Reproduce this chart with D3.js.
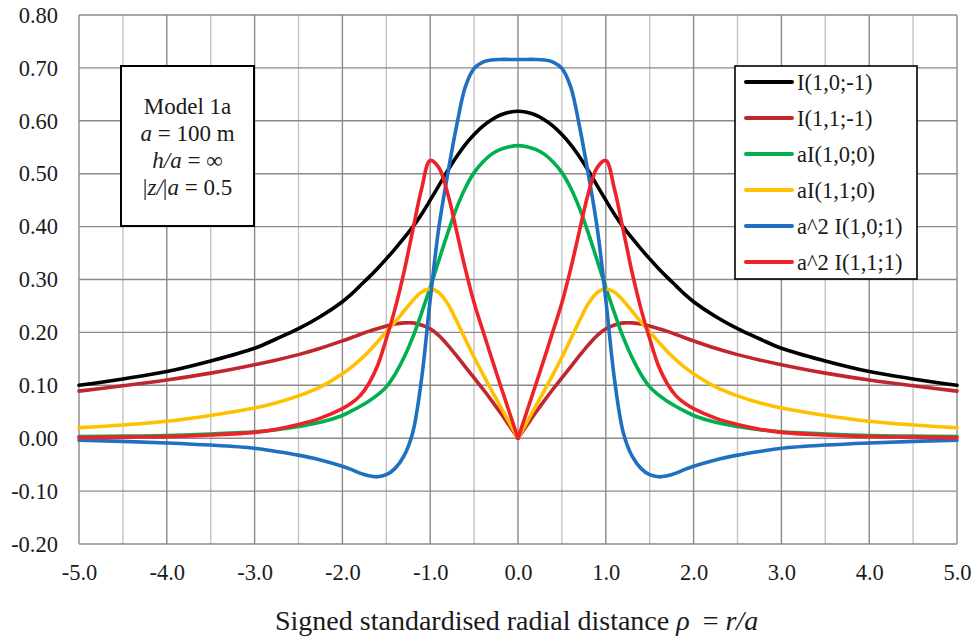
<!DOCTYPE html>
<html>
<head>
<meta charset="utf-8">
<script src="https://cdn.jsdelivr.net/npm/d3@7"></script>
<style>
  body { margin: 0; background: #fff; }
  svg text { font-family: "Liberation Serif", "Times New Roman", serif; fill: #1a1a1a; }
</style>
</head>
<body>
<svg id="chart" width="975" height="644"></svg>
<script>
// Signed standardised radial distance rho = r/a
const rho = [
  -5.0, -4.5, -4.0, -3.5, -3.0, -2.75, -2.5, -2.25, -2.0, -1.9, -1.8, -1.7, -1.6, -1.5, -1.4,
  -1.3, -1.2, -1.1, -1.0, -0.9, -0.8, -0.7, -0.6, -0.5, -0.4, -0.3, -0.2, -0.1,
  0.0,
  0.1, 0.2, 0.3, 0.4, 0.5, 0.6, 0.7, 0.8, 0.9, 1.0, 1.1, 1.2, 1.3,
  1.4, 1.5, 1.6, 1.7, 1.8, 1.9, 2.0, 2.25, 2.5, 2.75, 3.0, 3.5, 4.0, 4.5, 5.0
];

// I(1,0;-1)
const valsI10m1 = [
  0.100, 0.112, 0.126, 0.146, 0.170, 0.188, 0.207, 0.230, 0.258, 0.272, 0.288, 0.304, 0.321, 0.339, 0.358,
  0.378, 0.399, 0.423, 0.450, 0.478, 0.506, 0.532, 0.555, 0.574, 0.590, 0.602, 0.611, 0.616,
  0.618,
  0.616, 0.611, 0.602, 0.590, 0.574, 0.555, 0.532, 0.506, 0.478, 0.450, 0.423, 0.399, 0.378,
  0.358, 0.339, 0.321, 0.304, 0.288, 0.272, 0.258, 0.230, 0.207, 0.188, 0.170, 0.146, 0.126, 0.112, 0.100
];

// I(1,1;-1)
const valsI11m1 = [
  0.089, 0.099, 0.110, 0.123, 0.139, 0.148, 0.158, 0.170, 0.184, 0.190, 0.196, 0.202, 0.207, 0.212, 0.216,
  0.218, 0.218, 0.214, 0.207, 0.194, 0.176, 0.156, 0.135, 0.114, 0.093, 0.071, 0.048, 0.024,
  0.000,
  0.024, 0.048, 0.071, 0.093, 0.114, 0.135, 0.156, 0.176, 0.194, 0.207, 0.214, 0.218, 0.218,
  0.216, 0.212, 0.207, 0.202, 0.196, 0.190, 0.184, 0.170, 0.158, 0.148, 0.139, 0.123, 0.110, 0.099, 0.089
];

// aI(1,0;0)
const valsI100 = [
  0.003, 0.004, 0.005, 0.008, 0.012, 0.016, 0.022, 0.030, 0.043, 0.051, 0.060, 0.070, 0.082, 0.097, 0.121,
  0.152, 0.190, 0.236, 0.285, 0.337, 0.388, 0.435, 0.473, 0.502, 0.522, 0.537, 0.546, 0.551,
  0.553,
  0.551, 0.546, 0.537, 0.522, 0.502, 0.473, 0.435, 0.388, 0.337, 0.285, 0.236, 0.190, 0.152,
  0.121, 0.097, 0.082, 0.070, 0.060, 0.051, 0.043, 0.030, 0.022, 0.016, 0.012, 0.008, 0.005, 0.004, 0.003
];

// aI(1,1;0)
const valsI110 = [
  0.020, 0.025, 0.032, 0.043, 0.057, 0.067, 0.080, 0.097, 0.122, 0.134, 0.148, 0.164, 0.182, 0.201, 0.220,
  0.240, 0.260, 0.276, 0.282, 0.275, 0.254, 0.222, 0.187, 0.153, 0.121, 0.090, 0.060, 0.030,
  0.000,
  0.030, 0.060, 0.090, 0.121, 0.153, 0.187, 0.222, 0.254, 0.275, 0.282, 0.276, 0.260, 0.240,
  0.220, 0.201, 0.182, 0.164, 0.148, 0.134, 0.122, 0.097, 0.080, 0.067, 0.057, 0.043, 0.032, 0.025, 0.020
];

// a^2 I(1,0;1)
const valsI101 = [
  -0.004, -0.006, -0.009, -0.013, -0.019, -0.025, -0.032, -0.041, -0.053, -0.059, -0.066, -0.071, -0.073, -0.069, -0.057,
  -0.034, 0.010, 0.110, 0.262, 0.400, 0.500, 0.590, 0.664, 0.699, 0.711, 0.715, 0.716, 0.716,
  0.716,
  0.716, 0.716, 0.715, 0.711, 0.699, 0.664, 0.590, 0.500, 0.400, 0.262, 0.110, 0.010, -0.034,
  -0.057, -0.069, -0.073, -0.071, -0.066, -0.059, -0.053, -0.041, -0.032, -0.025, -0.019, -0.013, -0.009, -0.006, -0.004
];

// a^2 I(1,1;1)
const valsI111 = [
  0.001, 0.002, 0.003, 0.006, 0.011, 0.017, 0.026, 0.038, 0.056, 0.066, 0.080, 0.103, 0.137, 0.188, 0.245,
  0.313, 0.392, 0.470, 0.525, 0.511, 0.462, 0.392, 0.320, 0.256, 0.203, 0.151, 0.100, 0.050,
  0.000,
  0.050, 0.100, 0.151, 0.203, 0.256, 0.320, 0.392, 0.462, 0.511, 0.525, 0.470, 0.392, 0.313,
  0.245, 0.188, 0.137, 0.103, 0.080, 0.066, 0.056, 0.038, 0.026, 0.017, 0.011, 0.006, 0.003, 0.002, 0.001
];

const seriesNames = ["I(1,0;-1)", "I(1,1;-1)", "aI(1,0;0)", "aI(1,1;0)", "a^2 I(1,0;1)", "a^2 I(1,1;1)"];
const seriesValues = [valsI10m1, valsI11m1, valsI100, valsI110, valsI101, valsI111];
const seriesColors = ["#000000", "#C0272D", "#00B050", "#FFC000", "#1F70C1", "#EE2229"];
// series with a kink (zero) at rho = 0
const seriesCusp = [false, true, false, true, false, true];

const xTickValues = [-5, -4, -3, -2, -1, 0, 1, 2, 3, 4, 5];
const xTickLabels = ["-5.0", "-4.0", "-3.0", "-2.0", "-1.0", "0.0", "1.0", "2.0", "3.0", "4.0", "5.0"];
const yTickValues = [-0.2, -0.1, 0.0, 0.1, 0.2, 0.3, 0.4, 0.5, 0.6, 0.7, 0.8];
const yTickLabels = ["-0.20", "-0.10", "0.00", "0.10", "0.20", "0.30", "0.40", "0.50", "0.60", "0.70", "0.80"];

// Parameter box text (runs: [text, italic])
const modelLines = [
  [["Model 1a", false]],
  [["a", true], [" = 100 m", false]],
  [["h/a", true], [" = \u221E", false]],
  [["|", false], ["z/", true], ["|", false], ["a", true], [" = 0.5", false]]
];

// ---------------------------------------------------------------
const FONT = "Liberation Serif, Times New Roman, serif";
const svg = d3.select("#chart");
const plot = { left: 79, right: 957, top: 15, bottom: 544 };

const x = d3.scaleLinear().domain([-5, 5]).range([plot.left, plot.right]);
const y = d3.scaleLinear().domain([-0.2, 0.8]).range([plot.bottom, plot.top]);

// grid
const grid = svg.append("g");
grid.selectAll("line.v").data(x.ticks(20)).join("line")
  .attr("x1", d => x(d)).attr("x2", d => x(d))
  .attr("y1", plot.top).attr("y2", plot.bottom)
  .attr("stroke", d => Math.abs(d - Math.round(d)) < 1e-9 ? "#8a8a8a" : "#c4c4c4")
  .attr("stroke-width", 1.4);
grid.selectAll("line.h").data(yTickValues).join("line")
  .attr("x1", plot.left).attr("x2", plot.right)
  .attr("y1", d => y(d)).attr("y2", d => y(d))
  .attr("stroke", "#8a8a8a")
  .attr("stroke-width", 1.4);

// axes (labels only)
const xAxis = svg.append("g")
  .attr("transform", `translate(0,${plot.bottom})`)
  .call(d3.axisBottom(x).tickValues(xTickValues)
    .tickFormat((d, i) => xTickLabels[i]).tickSize(0).tickPadding(20));
const yAxis = svg.append("g")
  .attr("transform", `translate(${plot.left},0)`)
  .call(d3.axisLeft(y).tickValues(yTickValues)
    .tickFormat((d, i) => yTickLabels[i]).tickSize(0).tickPadding(21));
[xAxis, yAxis].forEach(g => {
  g.attr("font-family", FONT).attr("font-size", 22.5);
  g.select(".domain").remove();
  g.selectAll("text").style("font-family", FONT).style("font-size", "22.5px").attr("fill", "#1a1a1a");
});

// parameter box
const mb = { x0: 121, y0: 66, x1: 254, y1: 226 };
svg.append("rect").attr("x", mb.x0).attr("y", mb.y0)
  .attr("width", mb.x1 - mb.x0).attr("height", mb.y1 - mb.y0)
  .attr("fill", "#fff").attr("stroke", "#000").attr("stroke-width", 2);
const mt = svg.append("text").attr("text-anchor", "middle").attr("font-size", 23);
modelLines.forEach((runs, i) => {
  const line = mt.append("tspan").attr("x", (mb.x0 + mb.x1) / 2).attr("y", 114 + i * 27);
  runs.forEach(([t, it]) => {
    line.append("tspan").text(t).attr("font-style", it ? "italic" : "normal");
  });
});

// curves
const lineGen = d3.line()
  .x(d => x(d[0])).y(d => y(d[1]))
  .curve(d3.curveCatmullRom.alpha(0.5));
const curves = svg.append("g").attr("fill", "none")
  .attr("stroke-width", 3.6).attr("stroke-linejoin", "round").attr("stroke-linecap", "round");
seriesValues.forEach((vals, s) => {
  const pts = rho.map((r, i) => [r, vals[i]]);
  const parts = seriesCusp[s]
    ? [pts.filter(p => p[0] <= 0), pts.filter(p => p[0] >= 0)]
    : [pts];
  parts.forEach(p => {
    curves.append("path").attr("d", lineGen(p)).attr("stroke", seriesColors[s]);
  });
});

// legend
const lg = { x0: 735, y0: 66, x1: 917, y1: 279, row0: 82, step: 36 };
svg.append("rect").attr("x", lg.x0).attr("y", lg.y0)
  .attr("width", lg.x1 - lg.x0).attr("height", lg.y1 - lg.y0)
  .attr("fill", "#fff").attr("stroke", "#000").attr("stroke-width", 1.6);
seriesNames.forEach((name, i) => {
  const cy = lg.row0 + i * lg.step;
  svg.append("line").attr("x1", 746).attr("x2", 792).attr("y1", cy).attr("y2", cy)
    .attr("stroke", seriesColors[i]).attr("stroke-width", 4).attr("stroke-linecap", "round");
  svg.append("text").attr("x", 797).attr("y", cy + 8).attr("font-size", 22.5).text(name);
});

// x-axis title
const title = svg.append("text").attr("x", 275).attr("y", 630)
  .attr("text-anchor", "start").attr("font-size", 28);
title.append("tspan").text("Signed standardised radial distance ");
title.append("tspan").attr("font-style", "italic").text("\u03C1");
title.append("tspan").attr("dx", 6).text(" = ");
title.append("tspan").attr("font-style", "italic").text("r/a");
</script>
</body>
</html>
